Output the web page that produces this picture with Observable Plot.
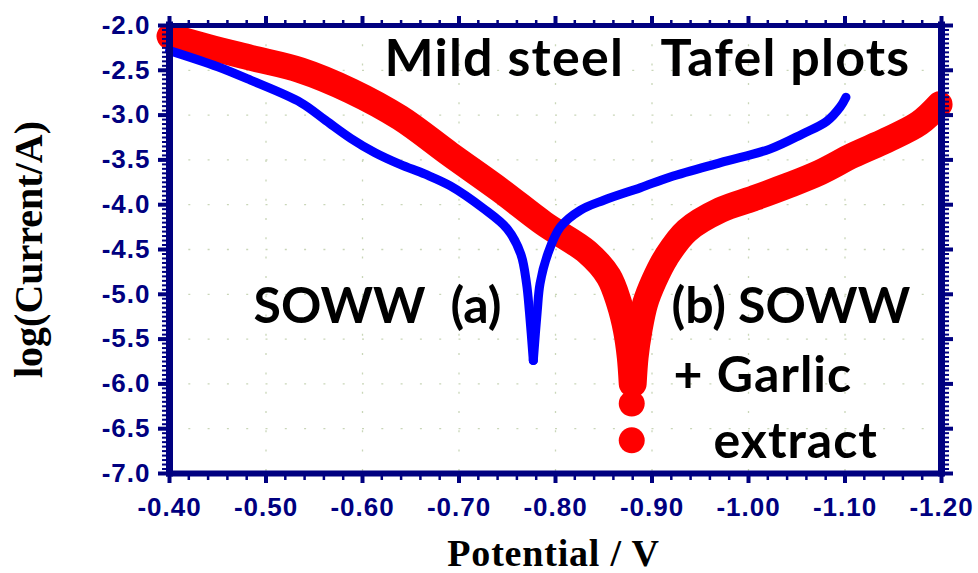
<!DOCTYPE html>
<html><head><meta charset="utf-8">
<script src="https://cdn.jsdelivr.net/npm/d3@7"></script>
<script src="https://cdn.jsdelivr.net/npm/@observablehq/plot@0.6"></script>
<style>
html,body{margin:0;padding:0;background:#fff;}
#chart svg{display:block;}
g[aria-label="x-axis tick label"] text, g[aria-label="y-axis tick label"] text{letter-spacing:1px;}
</style></head><body><div id="chart"></div>
<script>
// Tick labels
const xTicks = [-0.40,-0.50,-0.60,-0.70,-0.80,-0.90,-1.00,-1.10,-1.20];
const yTicks = [-2.0,-2.5,-3.0,-3.5,-4.0,-4.5,-5.0,-5.5,-6.0,-6.5,-7.0];
const xMinorTicks = d3.range(0, 41).map(i => +(-0.40 - i * 0.02).toFixed(2));
const yMinorTicks = d3.range(0, 101).map(i => +(-2.0 - i * 0.05).toFixed(2));

// (a) SOWW — blue
const blueDownX = [-0.40,-0.45,-0.484,-0.536,-0.562,-0.588,-0.613,-0.639,-0.665,-0.691,-0.725,-0.750,-0.764,-0.770,-0.773,-0.777];
const blueDownY = [-2.28,-2.46,-2.61,-2.86,-3.06,-3.26,-3.42,-3.55,-3.66,-3.79,-4.04,-4.27,-4.55,-4.88,-5.20,-5.74];
const blueUpX = [-0.777,-0.781,-0.784,-0.792,-0.805,-0.826,-0.850,-0.888,-0.919,-0.971,-1.022,-1.056,-1.081,-1.095,-1.101];
const blueUpY = [-5.74,-5.20,-4.88,-4.55,-4.25,-4.06,-3.95,-3.81,-3.69,-3.53,-3.38,-3.21,-3.07,-2.91,-2.80];

// (b) SOWW + Garlic extract — red
const redDownX = [-0.40,-0.44,-0.484,-0.536,-0.588,-0.639,-0.691,-0.743,-0.788,-0.833,-0.855,-0.866,-0.873,-0.877,-0.879];
const redDownY = [-2.12,-2.24,-2.36,-2.50,-2.73,-3.03,-3.44,-3.84,-4.21,-4.53,-4.80,-5.10,-5.40,-5.70,-6.00];
const redUpX = [-0.881,-0.883,-0.887,-0.893,-0.902,-0.915,-0.936,-0.971,-1.005,-1.040,-1.074,-1.108,-1.143,-1.177,-1.198];
const redUpY = [-6.00,-5.70,-5.40,-5.10,-4.85,-4.58,-4.29,-4.06,-3.93,-3.79,-3.64,-3.45,-3.28,-3.09,-2.88];
const redTailX = [-0.879,-0.879];
const redTailY = [-6.22,-6.63];

// Annotations
const titleText = ["Mild steel","Tafel plots"];
const titleX = [-0.6228,-0.9088];
const titleY = [-2.379,-2.379];
const noteText = ["SOWW","(a)","(b) SOWW","+ Garlic","extract"];
const noteX = [-0.487,-0.6912,-0.9202,-0.9223,-0.9637];
const noteY = [-5.147,-5.147,-5.147,-5.917,-6.654];

const toPts = (xs, ys) => xs.map((x, i) => ({x, y: ys[i]}));
const blueDown = toPts(blueDownX, blueDownY), blueUp = toPts(blueUpX, blueUpY);
const redDown = toPts(redDownX, redDownY), redUp = toPts(redUpX, redUpY);
const redTail = toPts(redTailX, redTailY);
const titles = titleText.map((t, i) => ({t, x: titleX[i], y: titleY[i]}));
const notes = noteText.map((t, i) => ({t, x: noteX[i], y: noteY[i]}));

const navy = "#000080";
const gridStyle = {stroke: "#c9d6b8", strokeOpacity: 1, strokeWidth: 1.3, strokeDasharray: "2,17.3"};
const lineOpts = (c, w) => ({x: "x", y: "y", stroke: c, strokeWidth: w, curve: "catmull-rom", strokeLinecap: "round", strokeLinejoin: "round"});
const noteFont = "Lato, 'Open Sans', sans-serif";
const serif = "'Liberation Serif', 'Times New Roman', serif";

const chart = Plot.plot({
  width: 978, height: 573,
  marginLeft: 169, marginRight: 37, marginTop: 25, marginBottom: 100,
  style: {fontFamily: "'Liberation Sans', Arial, sans-serif", background: "#fff"},
  x: {domain: [-0.40, -1.20]},
  y: {domain: [-7.0, -2.0]},
  marks: [
    Plot.gridX(xTicks, gridStyle),
    Plot.gridY(yTicks, gridStyle),
    Plot.line(redDown, lineOpts("#ff0000", 26)),
    Plot.line(redUp, lineOpts("#ff0000", 26)),
    Plot.dot(redTail, {x: "x", y: "y", r: 13, fill: "#ff0000"}),
    Plot.line(blueDown, lineOpts("#0000ff", 9)),
    Plot.line(blueUp, lineOpts("#0000ff", 9)),
    // minor ticks
    Plot.axisX(xMinorTicks, {anchor: "bottom", tickSize: 7, strokeWidth: 2.5, stroke: navy, text: null, label: null}),
    Plot.axisX(xMinorTicks, {anchor: "top", tickSize: 6, strokeWidth: 2.5, stroke: navy, text: null, label: null}),
    Plot.axisY(yMinorTicks, {anchor: "left", tickSize: 7, strokeWidth: 2, stroke: navy, text: null, label: null}),
    Plot.axisY(yMinorTicks, {anchor: "right", tickSize: 7, strokeWidth: 2, stroke: navy, text: null, label: null}),
    // major ticks
    Plot.axisX(xTicks, {anchor: "bottom", tickSize: 10, tickPadding: 14, strokeWidth: 4, color: navy,
      tickFormat: d => d.toFixed(2), fontSize: 26, fontWeight: "bold", label: null}),
    Plot.axisX(xTicks, {anchor: "top", tickSize: 10, strokeWidth: 4, stroke: navy, text: null, label: null}),
    Plot.axisY(yTicks, {anchor: "left", tickSize: 11, tickPadding: 8, strokeWidth: 4, color: navy,
      tickFormat: d => d.toFixed(1), fontSize: 26, fontWeight: "bold", label: null}),
    Plot.axisY(yTicks, {anchor: "right", tickSize: 11, strokeWidth: 4, stroke: navy, text: null, label: null}),
    // frame
    Plot.ruleX([-0.40], {stroke: navy, strokeWidth: 7, strokeLinecap: "square"}),
    Plot.ruleX([-1.20], {stroke: navy, strokeWidth: 7, strokeLinecap: "square"}),
    Plot.ruleY([-2.0], {stroke: navy, strokeWidth: 5, strokeLinecap: "square"}),
    Plot.ruleY([-7.0], {stroke: navy, strokeWidth: 6, strokeLinecap: "square"}),
    // annotations
    Plot.text(titles, {x: "x", y: "y", text: "t", textAnchor: "start", fill: "#000",
      fontFamily: noteFont, fontWeight: 700, fontSize: 52}),
    Plot.text(notes, {x: "x", y: "y", text: "t", textAnchor: "start", fill: "#000",
      fontFamily: noteFont, fontWeight: 700, fontSize: 50}),
    // axis titles
    Plot.text(["log(Current/A)"], {frameAnchor: "left", dx: -140, rotate: -90, text: d => d,
      textAnchor: "middle", lineAnchor: "middle",
      fontFamily: serif, fontWeight: "bold", fontSize: 40, fill: "#000"}),
    Plot.text(["Potential / V"], {frameAnchor: "bottom", dy: 80, dx: -2, text: d => d,
      textAnchor: "middle", lineAnchor: "middle",
      fontFamily: serif, fontWeight: "bold", fontSize: 38, fill: "#000"})
  ]
});
// letter spacing for the wide annotation labels
d3.select(chart).selectAll("text").each(function() {
  const s = this.textContent;
  if (titleText.includes(s)) this.setAttribute("letter-spacing", "1.2");
  if (s === "+ Garlic" || s === "extract") this.setAttribute("letter-spacing", "1");
  if (s === "Potential / V") this.setAttribute("letter-spacing", "0.8");
});
document.getElementById("chart").appendChild(chart);
</script></body></html>
